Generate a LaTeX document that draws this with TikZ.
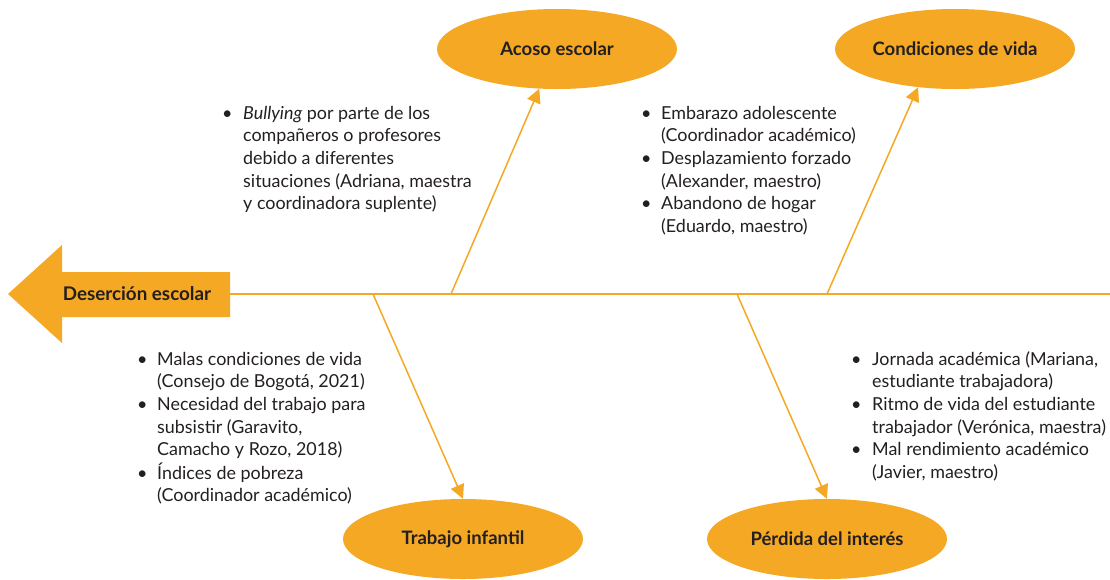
\documentclass[tikz,border=0pt]{standalone}
\usepackage{fontspec}
\setmainfont{Lato}
\usepackage{xcolor}
\usepackage{tikz}
\usetikzlibrary{arrows.meta, positioning, shapes.geometric}

\definecolor{naranja}{RGB}{245,168,35}
\definecolor{tinta}{RGB}{35,31,32}

\begin{document}
\begin{tikzpicture}[
  x=1pt, y=-1pt,
  causa/.style={ellipse, fill=naranja, minimum width=240pt, minimum height=80pt,
    inner sep=0pt, text=tinta, font=\bfseries\fontsize{18.5}{20}\selectfont},
  lista/.style={anchor=base west, inner sep=0pt, text=tinta,
    font=\fontsize{17.9}{22.7}\selectfont},
  espina/.style={draw=naranja, line width=2pt},
  rama/.style={draw=naranja, line width=1.5pt, -{Triangle[length=14pt, width=14pt]}},
]
\useasboundingbox (0,0) rectangle (1110,579);

%% Head arrow and spine
\fill[naranja] (8,294) -- (62,245) -- (62,272) -- (230,272) -- (230,317)
  -- (62,317) -- (62,343) -- cycle;
\node[text=tinta, font=\bfseries\fontsize{18.8}{20}\selectfont] (desercion) at (137,294) {Deserción escolar};
\coordinate (cola) at (230,294);
\coordinate (fin)  at (1110,294);
\draw[espina] (cola) -- (fin);

%% Causes
\node[causa] (acoso)       at (557,49)  {Acoso escolar};
\node[causa] (condiciones) at (955,49)  {Condiciones de vida};
\node[causa] (trabajo)     at (463,539) {Trabajo infantil};
\node[causa] (perdida)     at (827,539) {Pérdida del interés};

%% Branches
\coordinate (r1) at (451,294);
\coordinate (r2) at (827,294);
\coordinate (r3) at (373,294);
\coordinate (r4) at (737,294);
\draw[rama] (r1) -- (acoso.246);
\draw[rama] (r2) -- (condiciones.226);
\draw[rama] (r3) -- (trabajo.north);
\draw[rama] (r4) -- (perdida.north);

%% Lists
\node[lista] (l1) at (222,119) {\begin{tabular}[t]{@{}p{21pt}@{}l@{}}
  \textbullet & \textit{Bullying} por parte de los\\
  & compañeros o profesores\\
  & debido a diferentes\\
  & situaciones (Adriana, maestra\\
  & y coordinadora suplente)
\end{tabular}};
\node[lista] (l2) at (641,119) {\begin{tabular}[t]{@{}p{20pt}@{}l@{}}
  \textbullet & Embarazo adolescente\\
  & (Coordinador académico)\\
  \textbullet & Desplazamiento forzado\\
  & (Alexander, maestro)\\
  \textbullet & Abandono de hogar\\
  & (Eduardo, maestro)
\end{tabular}};
\node[lista] (l3) at (137,365) {\begin{tabular}[t]{@{}p{20pt}@{}l@{}}
  \textbullet & Malas condiciones de vida\\
  & (Consejo de Bogotá, 2021)\\
  \textbullet & Necesidad del trabajo para\\
  & subsistir (Garavito,\\
  & Camacho y Rozo, 2018)\\
  \textbullet & Índices de pobreza\\
  & (Coordinador académico)
\end{tabular}};
\node[lista] (l4) at (851,365) {\begin{tabular}[t]{@{}p{21pt}@{}l@{}}
  \textbullet & Jornada académica (Mariana,\\
  & estudiante trabajadora)\\
  \textbullet & Ritmo de vida del estudiante\\
  & trabajador (Verónica, maestra)\\
  \textbullet & Mal rendimiento académico\\
  & (Javier, maestro)
\end{tabular}};

\end{tikzpicture}
\end{document}
